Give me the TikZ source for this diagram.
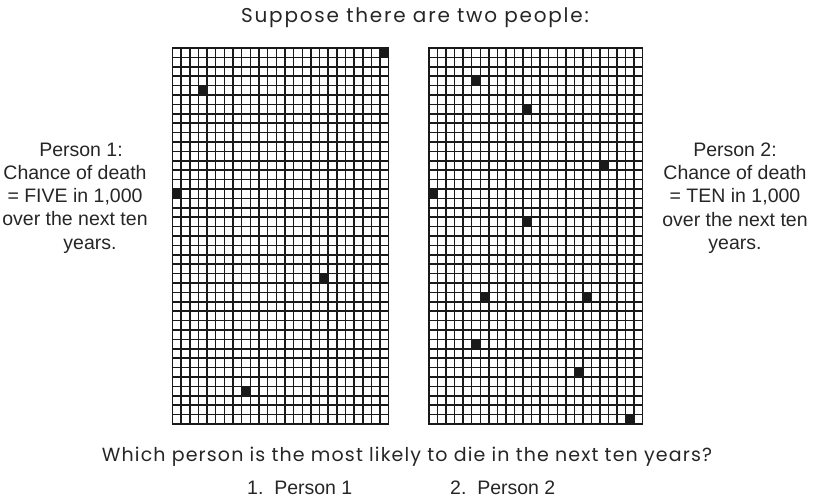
\documentclass[tikz,border=0pt]{standalone}
\usepackage{fontspec}
\setmainfont{Liberation Sans}
\newfontfamily\geofont[LetterSpace=9]{Poppins}
\newfontfamily\geofontq[LetterSpace=6]{Poppins}
\begin{document}
\begin{tikzpicture}[x=1pt,y=-1pt,
  gridline/.style={line width=1.45pt, draw=black!90, line cap=rect},
  deadcell/.style={fill=black!90},
  sidelabel/.style={font=\fontsize{19.5}{23.3}\selectfont, align=center, inner sep=0pt, text=black!85},
  headline/.style={font=\geofont\fontsize{20}{24}\selectfont, inner sep=0pt, text=black!85, anchor=base},
  question/.style={font=\geofontq\fontsize{19}{23}\selectfont, inner sep=0pt, text=black!85, anchor=base},
  optlabel/.style={font=\fontsize{19.5}{22}\selectfont, inner sep=0pt, text=black!85, anchor=base west}]
\useasboundingbox (0,0) rectangle (815,501);
\fill[white] (0,0) rectangle (815,501);
% ---------- left grid ----------
\def\ly{48}\def\ch{9.4}
\def\lx{172.5}\def\lw{8.65}
\foreach \c/\r in {24/0,3/4,0/15,17/24,8/36}
  \fill[deadcell] ({\lx+\c*\lw},{\ly+\r*\ch}) rectangle ++(\lw,\ch);
\foreach \i in {0,...,25}
  \draw[gridline] ({\lx+\i*\lw},\ly) -- ({\lx+\i*\lw},{\ly+40*\ch});
\foreach \j in {0,...,40}
  \draw[gridline] (\lx,{\ly+\j*\ch}) -- ({\lx+25*\lw},{\ly+\j*\ch});
% ---------- right grid ----------
\def\rx{429}\def\rw{8.55}
\foreach \c/\r in {5/3,11/6,20/12,0/15,11/18,6/26,18/26,5/31,17/34,23/39}
  \fill[deadcell] ({\rx+\c*\rw},{\ly+\r*\ch}) rectangle ++(\rw,\ch);
\foreach \i in {0,...,25}
  \draw[gridline] ({\rx+\i*\rw},\ly) -- ({\rx+\i*\rw},{\ly+40*\ch});
\foreach \j in {0,...,40}
  \draw[gridline] (\rx,{\ly+\j*\ch}) -- ({\rx+25*\rw},{\ly+\j*\ch});
% ---------- texts ----------
\node[headline] (title) at (415,22) {Suppose there are two people:};
\node[sidelabel] (p1) at (75,198) {\hspace*{12pt}Person 1:\\Chance of death\\= FIVE in 1,000\\over the next ten\\\hspace*{30pt}years.};
\node[sidelabel] (p2) at (735,198) {Person 2:\\Chance of death\\= TEN in 1,000\\over the next ten\\years.};
\node[question] (q) at (407,461) {Which person is the most likely to die in the next ten years?};
\node[optlabel] (opt1) at (247,494) {1.\ \ Person 1};
\node[optlabel] (opt2) at (450,494) {2.\ \ Person 2};
\end{tikzpicture}
\end{document}
